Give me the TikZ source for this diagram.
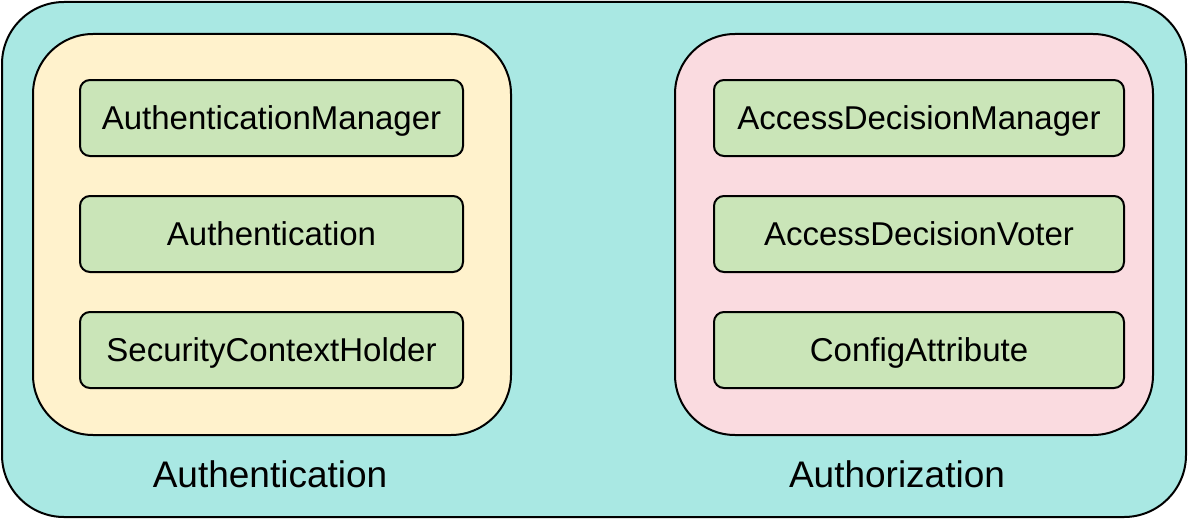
\documentclass[tikz,border=0pt]{standalone}
\usepackage{fontspec}
\setmainfont{Liberation Sans}
\definecolor{teal}{HTML}{A9E8E3}
\definecolor{yel}{HTML}{FFF2CC}
\definecolor{pinkc}{HTML}{FADBE0}
\definecolor{grn}{HTML}{CAE5B8}
\begin{document}
\begin{tikzpicture}[x=1pt,y=-1pt,
  outerbox/.style={draw=black,line width=2pt,rounded corners=62pt},
  groupbox/.style={draw=black,line width=2pt,rounded corners=60pt},
  item/.style={draw=black,line width=2pt,rounded corners=10pt,fill=grn,minimum width=383pt,minimum height=76pt,inner sep=0pt,font=\fontsize{33}{38}\selectfont,text height=23.6pt,text depth=0pt},
  caption/.style={font=\fontsize{37}{42}\selectfont,inner sep=0pt,text height=26.5pt,text depth=0pt}]
\useasboundingbox (0,0) rectangle (1188,519);
\draw[outerbox,fill=teal] (2,2) rectangle (1186,517);
\draw[groupbox,fill=yel] (33,34) rectangle (511,435);
\draw[groupbox,fill=pinkc] (675,34) rectangle (1153,435);
\node[item] (am) at (271.5,118) {AuthenticationManager};
\node[item] (au) at (271.5,234) {Authentication};
\node[item] (sc) at (271.5,350) {SecurityContextHolder};
\node[item,minimum width=410pt] (adm) at (919,118) {AccessDecisionManager};
\node[item,minimum width=410pt] (adv) at (919,234) {AccessDecisionVoter};
\node[item,minimum width=410pt] (ca) at (919,350) {ConfigAttribute};
\node[caption] (l1) at (270,474.5) {Authentication};
\node[caption] (l2) at (897,474.5) {Authorization};
\end{tikzpicture}
\end{document}
